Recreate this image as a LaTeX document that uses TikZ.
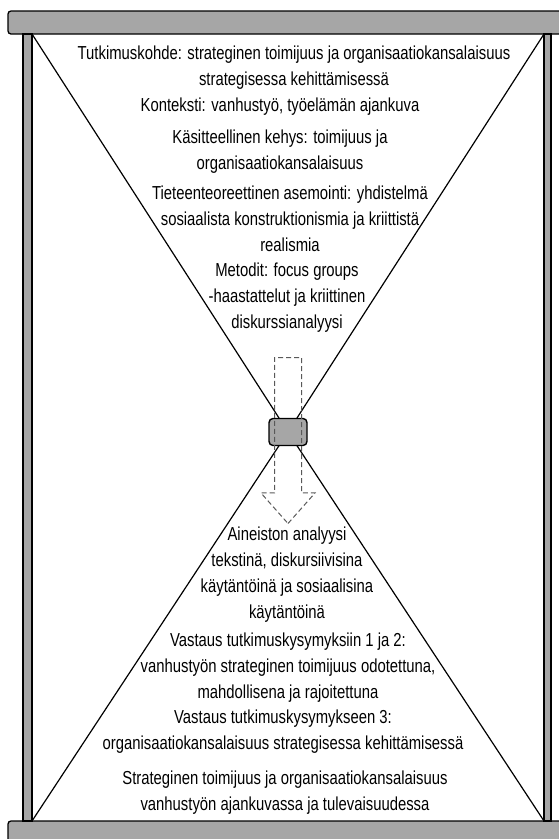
\documentclass[tikz,border=0pt]{standalone}
\usepackage{fontspec}
\setmainfont[FakeStretch=0.79]{Liberation Sans}
\usetikzlibrary{shapes.arrows}
\definecolor{bargray}{HTML}{A6A6A6}
\tikzstyle{frame} = [draw=black, line width=1.3pt, fill=bargray]
\tikzstyle{diag} = [line width=1.2pt]
\tikzstyle{neck} = [rectangle, rounded corners=4pt, minimum width=38pt, minimum height=27pt, draw=black, line width=1.4pt, fill=bargray]
\tikzstyle{flow} = [single arrow, shape border rotate=270, draw=black!65, dash pattern=on 5pt off 3pt, line width=1pt, inner sep=13pt, minimum height=166pt, single arrow head extend=13.5pt, single arrow tip angle=83, single arrow head indent=0pt]
\tikzstyle{txt} = [align=center, inner sep=0pt, font=\fontsize{18.8}{26}\selectfont]

\begin{document}
\begin{tikzpicture}[x=1pt, y=-1pt]
\useasboundingbox (0,0) rectangle (558,839);

% Frame of the hourglass
\draw [frame, rounded corners=3pt] (8,11) rectangle (580,34);
\draw [frame, rounded corners=3pt] (8,821) rectangle (580,860);
\draw [frame] (23,34) rectangle (32,821);
\draw [frame] (544,34) rectangle (551,821);

% Corners and waist
\coordinate (tl) at (32,34);
\coordinate (tr) at (544,34);
\coordinate (bl) at (32,821);
\coordinate (br) at (544,821);
\coordinate (waist) at (288,432);

\draw [diag] (tl) -- (waist) -- (br);
\draw [diag] (tr) -- (waist) -- (bl);

\node (neck) [neck] at (waist) {};
\node (flow) [flow, anchor=tail] at (288,357) {};

% Upper half
\node (object) [txt] at (294,67.5) {Tutkimuskohde: strateginen toimijuus ja organisaatiokansalaisuus\\strategisessa kehittämisessä};
\node (context) [txt] at (280,107) {Konteksti: vanhustyö, työelämän ajankuva};
\node (frameworks) [txt] at (280,151.5) {Käsitteellinen kehys: toimijuus ja\\organisaatiokansalaisuus};
\node (position) [txt] at (290,219) {Tieteenteoreettinen asemointi: yhdistelmä\\sosiaalista konstruktionismia ja kriittistä\\realismia};
\node (methods) [txt] at (287,297.5) {Metodit: focus groups\\-haastattelut ja kriittinen\\diskurssianalyysi};

% Lower half
\node (analysis) [txt] at (287,575) {Aineiston analyysi\\tekstinä, diskursiivisina\\käytäntöinä ja sosiaalisina\\käytäntöinä};
\node (answer12) [txt] at (288,667.5) {Vastaus tutkimuskysymyksiin 1 ja 2:\\vanhustyön strateginen toimijuus odotettuna,\\mahdollisena ja rajoitettuna};
\node (answer3) [txt] at (283,732) {Vastaus tutkimuskysymykseen 3:\\organisaatiokansalaisuus strategisessa kehittämisessä};
\node (result) [txt] at (285,793) {Strateginen toimijuus ja organisaatiokansalaisuus\\vanhustyön ajankuvassa ja tulevaisuudessa};

\end{tikzpicture}
\end{document}
